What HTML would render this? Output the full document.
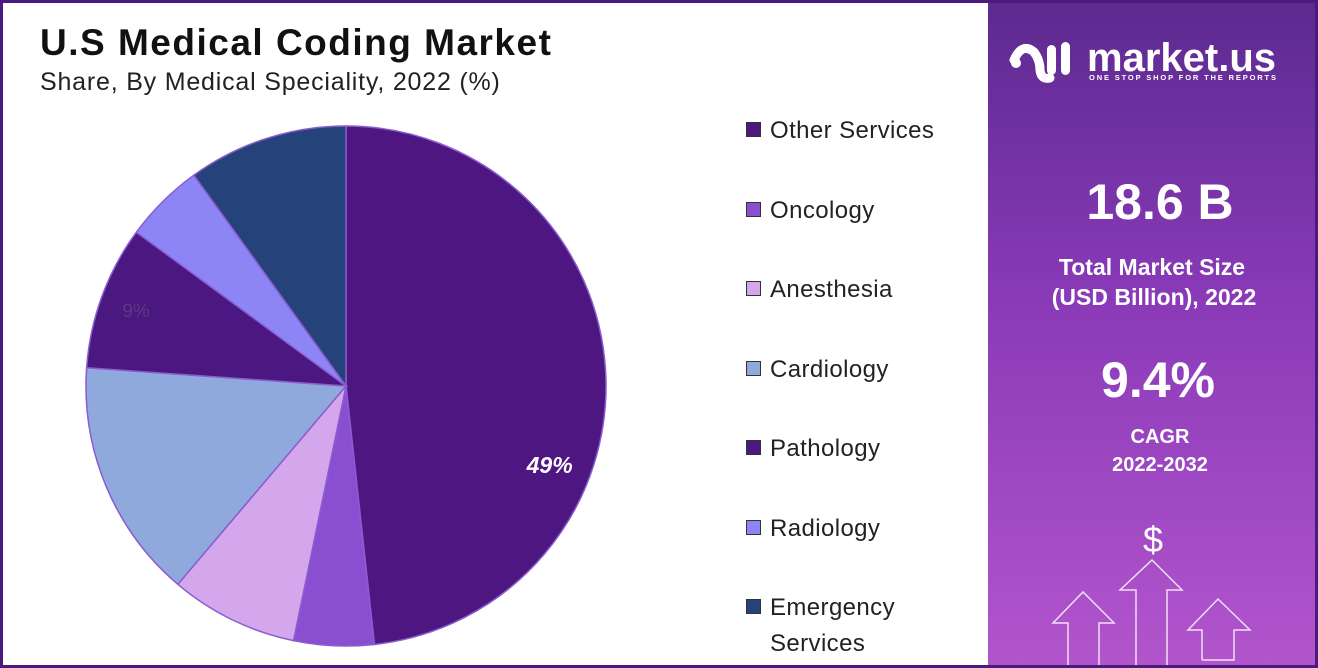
<!DOCTYPE html>
<html><head><meta charset="utf-8"><style>
body{margin:0;width:1318px;height:668px;overflow:hidden;background:#fff;font-family:"Liberation Sans",sans-serif}
#frame{position:absolute;left:0;top:0;width:1312px;height:662px;border:3px solid #4a1a7e}
#left{position:absolute;left:3px;top:3px;width:983px;height:662px;background:#fff}
#right{position:absolute;left:988px;top:3px;width:327px;height:662px;background:linear-gradient(180deg,#5c2a90 0%,#8a3ab8 45%,#b255cc 100%)}
.t{position:absolute;white-space:nowrap}
</style></head><body>
<div id="frame"></div>
<div id="left"></div>
<div class="t" style="left:40px;top:22px;font-size:37px;font-weight:bold;color:#111;letter-spacing:1.5px">U.S Medical Coding Market</div>
<div class="t" style="left:40px;top:68px;font-size:25px;color:#222;letter-spacing:0.8px">Share, By Medical Speciality, 2022 (%)</div>
<svg id="pie" width="986" height="668" style="position:absolute;left:0;top:0"></svg>
<div id="right"></div>
<svg width="1318" height="668" style="position:absolute;left:0;top:0">
<g fill="#fff">
<circle cx="1016" cy="63" r="5"/>
<path d="M1014 60 Q1022 42 1034 52 Q1040 60 1040 70 Q1041 80 1050 78" stroke="#fff" stroke-width="9" fill="none" stroke-linecap="round"/>
<rect x="1047" y="45" width="9" height="30" rx="4.5"/><rect x="1061" y="42" width="9" height="33" rx="4.5"/>
</g>
<text x="1087" y="71" fill="#fff" font-size="40" font-weight="bold" font-family="Liberation Sans" textLength="189">market.us</text>
<text x="1089" y="80" fill="#fff" font-size="7.5" font-weight="bold" font-family="Liberation Sans" textLength="187">ONE STOP SHOP FOR THE REPORTS</text>
<text x="1160" y="219" text-anchor="middle" fill="#fff" font-size="50" font-weight="bold" font-family="Liberation Sans">18.6 B</text>
<text x="1152" y="275" text-anchor="middle" fill="#fff" font-size="23" font-weight="bold" font-family="Liberation Sans">Total Market Size</text>
<text x="1154" y="305" text-anchor="middle" fill="#fff" font-size="23" font-weight="bold" font-family="Liberation Sans">(USD Billion), 2022</text>
<text x="1158" y="397" text-anchor="middle" fill="#fff" font-size="50" font-weight="bold" font-family="Liberation Sans">9.4%</text>
<text x="1160" y="443" text-anchor="middle" fill="#fff" font-size="20" font-weight="bold" font-family="Liberation Sans">CAGR</text>
<text x="1160" y="471" text-anchor="middle" fill="#fff" font-size="20" font-weight="bold" font-family="Liberation Sans">2022-2032</text>
<text x="1153" y="552" text-anchor="middle" fill="#fff" font-size="36" font-family="Liberation Sans">$</text>
<g fill="none" stroke="#f0e0f6" stroke-width="1.5">
<polyline points="1068,665 1068,623 1053,623 1083,592 1114,623 1099,623 1099,665"/>
<polyline points="1136,665 1136,590 1120,590 1152,560 1182,590 1167,590 1167,665"/>
<polyline points="1202,660 1202,630 1188,630 1218,599 1250,630 1234,630 1234,660 1202,660"/>
</g>
</svg>
<div id="legend"></div>
<script>
const categories=["Other Services","Oncology","Anesthesia","Cardiology","Pathology","Radiology","Emergency Services"];
const values=[48.5,5,8,15,9,5,10];
const printed=["49%","","","","9%","",""];
const colors=["#4e1681","#8a4fd0","#d4a6ec","#8fa9dc","#4b1780","#8d85f5","#25437a"];
const svg=document.getElementById('pie');
const NS="http://www.w3.org/2000/svg";
const cx=346,cy=386,r=260;
const total=values.reduce((a,b)=>a+b,0);
function pt(a,rr){return [cx+rr*Math.sin(a),cy-rr*Math.cos(a)];}
let acc=0;
values.forEach((v,i)=>{
 const a0=acc/total*2*Math.PI;acc+=v;const a1=acc/total*2*Math.PI;
 const p0=pt(a0,r),p1=pt(a1,r);const large=(a1-a0)>Math.PI?1:0;
 const p=document.createElementNS(NS,'path');
 p.setAttribute('d',`M${cx},${cy} L${p0[0]},${p0[1]} A${r},${r} 0 ${large} 1 ${p1[0]},${p1[1]} Z`);
 p.setAttribute('fill',colors[i]);p.setAttribute('stroke','#8a5cd0');p.setAttribute('stroke-width','1.5');
 
 
 svg.appendChild(p);
 if(printed[i]){
  const frac=i==0?0.64:0.5;
  const am=a0+(a1-a0)*frac;const rr=i==0?0.84*r:0.86*r;const q=pt(am,rr);
  const t=document.createElementNS(NS,'text');
  t.setAttribute('x',q[0]);t.setAttribute('y',q[1]+8);t.setAttribute('text-anchor','middle');
  t.setAttribute('font-size',i==0?'23':'19');t.setAttribute('font-weight',i==0?'bold':'normal');
  t.setAttribute('font-style',i==0?'italic':'normal');t.setAttribute('fill',i==0?'#fff':'#5a3a80');
  t.setAttribute('font-family','Liberation Sans');
  t.textContent=printed[i];
  
  
  svg.appendChild(t);
 }
});
const lg=document.getElementById('legend');
categories.forEach((c,i)=>{
 const y=118+i*79.5;
 const sw=document.createElement('div');
 sw.style.cssText=`position:absolute;left:746px;top:${y+4}px;width:15px;height:15px;background:${colors[i]};border:1px solid #333;box-sizing:border-box`;
 
 
 const tx=document.createElement('div');
 tx.style.cssText=`position:absolute;left:770px;top:${y-5}px;font-size:24px;color:#222;line-height:36px;width:210px;letter-spacing:0.4px`;
 tx.textContent=c;
 
 
 lg.appendChild(sw);lg.appendChild(tx);
});
</script>
</body></html>
